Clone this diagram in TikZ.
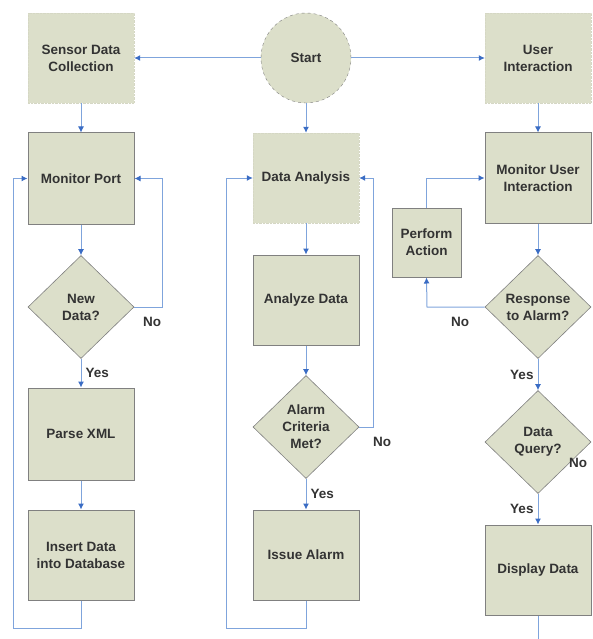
\documentclass[tikz,border=0pt]{standalone}
\usepackage{fontspec}
\setmainfont{Liberation Sans}
\usetikzlibrary{arrows.meta,shapes.geometric}
\definecolor{boxfill}{HTML}{DCDFCA}
\definecolor{boxedge}{HTML}{808080}
\definecolor{flowline}{HTML}{7FA4DC}
\definecolor{flowtip}{HTML}{3A6CC4}
\definecolor{inktext}{HTML}{333333}
\tikzset{
  softbox/.style={rectangle, fill=boxfill, draw=boxfill!92!gray, densely dotted, minimum width=106pt, minimum height=90pt, align=center, inner sep=0pt},
  framebox/.style={rectangle, fill=boxfill, draw=boxedge, line width=1pt, minimum width=106pt, minimum height=90pt, align=center, inner sep=0pt},
  decision/.style={diamond, fill=boxfill, draw=boxedge, line width=0.6pt, minimum width=106pt, minimum height=103pt, inner sep=0pt, aspect=1.03},
  flow/.style={draw=flowline, line width=1pt, -{Latex[length=6pt,width=6pt,color=flowtip]}},
  plainline/.style={draw=flowline, line width=1pt},
  tag/.style={inner sep=0pt}
}
\begin{document}
\begin{tikzpicture}[x=1pt, y=-1pt, font=\fontsize{13.5}{17}\selectfont\bfseries, text=inktext]
        \useasboundingbox (0,0) rectangle (592,639);
        \clip (0,0) rectangle (592,639);

        % Defining the nodes
        \node (start) at (306,58) [circle, fill=boxfill, draw=boxedge, dashed, minimum size=90pt, inner sep=0pt] {Start};
        \node (sensor) at (81,58) [softbox] {Sensor Data\\Collection};
        \node (user) at (538,58) [softbox] {User\\Interaction};

        \node (monport) at (81,178.5) [framebox, minimum height=91pt] {Monitor Port};
        \node (newdata) at (81,307) [decision, label={[align=center]center:New\\Data?}] {};
        \node (parse) at (81,434) [framebox, minimum height=92pt] {Parse XML};
        \node (insert) at (81,555) [framebox] {Insert Data\\into Database};

        \node (analysis) at (306,178) [softbox] {Data Analysis};
        \node (analyze) at (306,300) [framebox] {Analyze Data};
        \node (criteria) at (306,427) [decision, label={[align=center]center:Alarm\\Criteria\\Met?}] {};
        \node (issue) at (306,555) [framebox] {Issue Alarm};

        \node (monuser) at (538,178) [framebox] {Monitor User\\Interaction};
        \node (perform) at (426.5,242.5) [framebox, minimum width=69pt, minimum height=69pt] {Perform\\Action};
        \node (response) at (538,307) [decision, label={[align=center]center:Response\\to Alarm?}] {};
        \node (query) at (538,442) [decision, label={[align=center]center:Data\\Query?}] {};
        \node (display) at (538,570) [framebox] {Display Data};

        % Corner points of the loops
        \coordinate (railA) at (13,628);
        \coordinate (railB) at (162,307);
        \coordinate (railC) at (226,628);
        \coordinate (railD) at (373,427);
        \coordinate (railE) at (427,307);
        \coordinate (tailF) at (538,650);

        % Drawing lines with arrows
        \draw[flow] (start) -- (sensor);
        \draw[flow] (start) -- (user);
        \draw[flow] (sensor) -- (monport);
        \draw[flow] (start) -- (analysis);
        \draw[flow] (user) -- (monuser);

        \draw[flow] (monport) -- (newdata);
        \draw[flow] (newdata) -- node[tag, right, xshift=4pt] {Yes} (parse);
        \draw[flow] (newdata.east) -- (railB) |- (monport.east);
        \draw[flow] (parse) -- (insert);
        \draw[flow] (insert.south) |- (railA) |- (monport.west);

        \draw[flow] (analysis) -- (analyze);
        \draw[flow] (analyze) -- (criteria);
        \draw[flow] (criteria) -- node[tag, right, xshift=4pt] {Yes} (issue);
        \draw[flow] (criteria.east) -- (railD) |- (analysis.east);
        \draw[flow] (issue.south) |- (railC) |- (analysis.west);

        \draw[flow] (monuser) -- (response);
        \draw[flow] (response.west) -- (railE) -- (perform.south);
        \draw[flow] (perform.north) |- (monuser.west);
        \draw[flow] (response) -- node[tag, left, xshift=-4pt] {Yes} (query);
        \draw[flow] (query) -- node[tag, left, xshift=-4pt] {Yes} (display);
        \draw[plainline] (display) -- (tailF);

        % Adding labels
        \node (nolabA) at (152,322) [tag] {No};
        \node (nolabB) at (382,442) [tag] {No};
        \node (nolabC) at (460,322) [tag] {No};
        \node (nolabD) at (578,463) [tag] {No};
    \end{tikzpicture}
\end{document}
